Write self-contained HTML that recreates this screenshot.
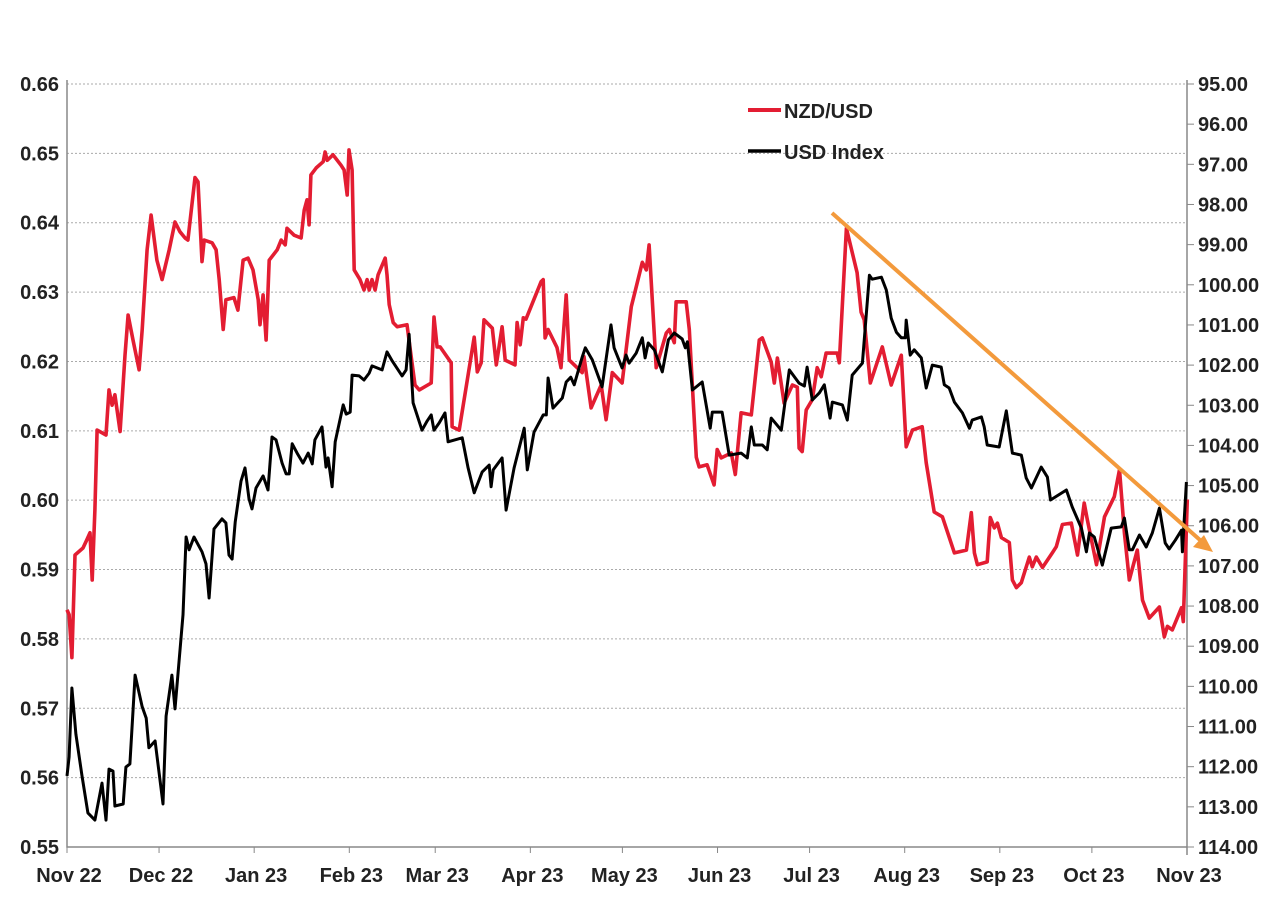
<!DOCTYPE html>
<html><head><meta charset="utf-8"><style>
body{margin:0;background:#fff;}
svg text{font-family:"Liberation Sans",sans-serif;font-weight:bold;fill:#222;}
</style></head><body>
<svg id="chart" width="1280" height="895" viewBox="0 0 1280 895" xmlns="http://www.w3.org/2000/svg"></svg>
<script>
const monthLabels=["Nov 22","Dec 22","Jan 23","Feb 23","Mar 23","Apr 23","May 23","Jun 23","Jul 23","Aug 23","Sep 23","Oct 23","Nov 23"];
const monthDays=[0,30,61,92,120,151,181,212,242,273,304,334,365];
const leftTicks=[0.55,0.56,0.57,0.58,0.59,0.60,0.61,0.62,0.63,0.64,0.65,0.66];
const rightTicks=[95,96,97,98,99,100,101,102,103,104,105,106,107,108,109,110,111,112,113,114];
const nzdDays=[0,0.7,1.6,2.6,5.2,6.5,7.5,8.2,9.1,9.8,12.7,13.7,14.7,15.6,17.3,18.9,19.9,21.5,23.5,24.5,26.1,27.4,29.3,31.0,33.3,35.2,36.8,38.5,39.4,41.7,42.7,44.0,44.7,47.3,48.6,49.6,50.9,51.8,54.4,55.7,57.4,59.0,60.6,62.3,62.9,63.9,64.9,65.9,68.5,69.8,71.1,71.7,74.0,76.3,77.3,78.2,78.9,79.5,81.2,83.5,84.1,84.8,86.7,89.3,90.3,91.3,91.9,92.9,93.6,95.5,96.8,97.8,98.5,99.4,100.4,101.4,103.7,104.3,105.0,106.3,107.6,110.8,112.1,113.4,114.8,118.7,119.6,120.6,121.6,125.2,125.5,127.8,132.7,133.7,135.0,135.9,138.6,139.9,141.8,142.8,146.0,146.7,147.7,148.7,149.6,154.5,155.2,155.8,156.8,159.7,161.0,162.7,163.7,167.9,168.5,170.8,174.1,175.7,177.7,180.9,183.9,187.5,188.8,189.7,192.0,195.3,196.3,197.9,198.5,201.8,202.8,205.1,206.0,208.6,210.9,211.9,213.2,216.5,217.8,219.7,223.0,225.6,226.6,229.5,230.5,231.5,233.7,236.4,238.0,238.6,239.6,240.9,242.9,244.5,245.8,247.4,251.0,251.7,254.0,257.5,258.8,259.8,261.8,265.7,268.6,271.9,273.5,275.5,278.7,280.0,282.6,285.3,289.2,293.1,294.7,295.7,296.7,299.9,300.9,302.2,303.2,304.5,307.1,308.1,309.4,311.0,313.6,314.6,315.9,317.9,321.1,322.4,324.4,327.3,329.3,331.5,332.5,335.5,338.1,341.3,343.0,344.6,346.2,348.8,350.5,352.7,356.0,357.6,358.6,360.2,363.2,363.8,365.1];
const nzdVals=[0.5842,0.5835,0.5773,0.5921,0.5931,0.5943,0.5953,0.5885,0.5986,0.6101,0.6094,0.6159,0.6137,0.6152,0.6099,0.6209,0.6267,0.6231,0.6188,0.6246,0.6361,0.6411,0.6346,0.6318,0.6361,0.6401,0.6387,0.6378,0.6375,0.6465,0.6459,0.6344,0.6375,0.6371,0.6361,0.6318,0.6246,0.6289,0.6292,0.6274,0.6346,0.6349,0.6332,0.6289,0.6253,0.6296,0.6231,0.6346,0.6361,0.6375,0.6368,0.6392,0.6382,0.6378,0.6418,0.6433,0.6397,0.6469,0.6479,0.6488,0.6502,0.6490,0.6498,0.6483,0.6476,0.6440,0.6505,0.6476,0.6332,0.6318,0.6303,0.6318,0.6303,0.6318,0.6303,0.6325,0.6349,0.6325,0.6282,0.6256,0.6250,0.6253,0.6209,0.6166,0.6159,0.6169,0.6264,0.6221,0.6221,0.6198,0.6106,0.6101,0.6235,0.6185,0.6198,0.6260,0.6248,0.6195,0.6250,0.6202,0.6195,0.6256,0.6224,0.6263,0.6261,0.6315,0.6318,0.6234,0.6246,0.6220,0.6191,0.6296,0.6202,0.6184,0.6207,0.6133,0.6166,0.6116,0.6184,0.6169,0.6279,0.6343,0.6332,0.6368,0.6191,0.6241,0.6246,0.6227,0.6286,0.6286,0.6246,0.6062,0.6048,0.6051,0.6022,0.6073,0.6061,0.6068,0.6037,0.6126,0.6123,0.6231,0.6234,0.6199,0.6169,0.6205,0.6140,0.6166,0.6163,0.6075,0.6070,0.6130,0.6145,0.6191,0.6178,0.6212,0.6212,0.6198,0.6392,0.6328,0.6271,0.6260,0.6169,0.6221,0.6166,0.6209,0.6077,0.6101,0.6106,0.6054,0.5983,0.5976,0.5924,0.5928,0.5982,0.5924,0.5907,0.5911,0.5975,0.5960,0.5967,0.5946,0.5939,0.5885,0.5874,0.5881,0.5918,0.5904,0.5918,0.5903,0.5924,0.5933,0.5965,0.5967,0.5921,0.5996,0.5972,0.5907,0.5976,0.6005,0.6044,0.5953,0.5885,0.5928,0.5856,0.5830,0.5846,0.5803,0.5818,0.5813,0.5845,0.5825,0.6001];
const usdDays=[0,0.7,1.6,2.9,4.9,6.8,9.1,11.4,12.7,13.7,15.0,15.6,18.3,19.2,20.5,22.2,24.5,25.8,26.7,28.7,31.3,32.3,34.2,35.2,37.8,38.8,39.8,41.4,44.0,45.3,46.3,47.9,50.5,51.8,52.8,53.8,54.8,56.7,58.0,59.3,60.3,61.6,63.9,65.5,66.8,68.1,70.1,71.4,72.4,73.4,75.0,76.9,78.6,79.9,80.8,83.1,84.4,85.1,86.4,87.4,90.0,91.0,92.3,92.9,95.2,96.8,98.5,99.4,102.7,104.3,106.0,109.2,110.5,111.5,112.8,115.7,117.4,118.7,119.6,121.3,123.2,124.2,128.8,130.7,132.7,135.3,137.6,138.2,138.9,141.8,143.1,145.7,149.0,150.0,152.2,155.2,156.2,156.8,158.4,161.4,162.7,164.2,165.3,167.9,168.9,171.2,174.4,177.3,178.3,180.9,182.2,183.2,185.5,187.5,188.4,189.4,191.4,194.0,196.0,197.9,200.5,201.5,202.2,203.8,207.0,209.6,210.3,213.5,215.8,219.7,221.7,223.0,224.0,226.6,228.2,229.5,232.8,235.4,238.6,240.3,241.2,242.9,245.2,246.8,248.7,249.4,252.7,254.3,255.9,259.2,261.5,262.4,265.4,267.0,268.6,270.3,271.9,273.2,273.5,274.8,276.1,278.4,280.0,282.0,284.9,285.9,287.5,289.2,291.8,294.1,295.0,298.0,298.9,299.9,303.8,306.1,308.1,311.0,312.6,314.3,317.5,319.5,320.5,325.7,327.6,330.6,332.2,333.2,334.8,337.4,340.3,343.6,344.6,346.2,347.2,349.5,351.7,353.7,356.0,357.9,359.2,361.2,363.2,363.5,364.8];
const usdVals=[112.23,111.76,110.04,111.19,112.23,113.15,113.33,112.41,113.33,112.06,112.11,112.98,112.93,112.01,111.93,109.72,110.51,110.79,111.53,111.36,112.93,110.74,109.72,110.56,108.22,106.28,106.60,106.28,106.65,106.95,107.80,106.08,105.83,105.93,106.73,106.83,105.91,104.89,104.56,105.33,105.58,105.06,104.76,105.11,103.79,103.86,104.44,104.71,104.71,103.96,104.19,104.44,104.19,104.46,103.86,103.54,104.54,104.31,105.03,103.91,102.99,103.22,103.17,102.25,102.27,102.37,102.20,102.02,102.12,101.67,101.90,102.27,102.12,101.23,102.94,103.62,103.39,103.24,103.62,103.44,103.19,103.91,103.81,104.56,105.18,104.66,104.49,105.03,104.61,104.31,105.61,104.56,103.57,104.61,103.67,103.24,103.24,102.32,103.07,102.82,102.42,102.30,102.49,101.80,101.57,101.87,102.54,101.00,101.57,102.07,101.75,101.95,101.70,101.32,101.82,101.45,101.62,102.17,101.37,101.20,101.35,101.57,101.42,102.62,102.42,103.57,103.17,103.17,104.24,104.19,104.31,103.54,103.99,103.99,104.11,103.32,103.62,102.12,102.45,102.52,102.05,102.87,102.69,102.49,103.32,102.92,102.99,103.37,102.25,101.95,99.76,99.86,99.81,100.13,100.83,101.18,101.32,101.32,100.88,101.75,101.62,101.82,102.57,102.00,102.05,102.49,102.57,102.92,103.19,103.57,103.37,103.29,103.54,103.99,104.04,103.14,104.19,104.24,104.81,105.06,104.54,104.79,105.36,105.11,105.53,106.06,106.65,106.18,106.28,106.98,106.06,106.03,105.81,106.60,106.60,106.23,106.53,106.18,105.56,106.43,106.58,106.36,106.11,106.65,104.91];

const NS="http://www.w3.org/2000/svg";
const svg=document.getElementById('chart');
const X0=67,X1=1187,YT=84,YB=847;
const xS=d=>X0+(d/365)*(X1-X0);
const yL=v=>YB-(v-0.55)/(0.66-0.55)*(YB-YT);
const yR=v=>YT+(v-95)/(114-95)*(YB-YT);
function mk(tag,attrs,parent){const e=document.createElementNS(NS,tag);for(const k in attrs)e.setAttribute(k,attrs[k]);(parent||svg).appendChild(e);return e;}

const grid=mk('g',{});


leftTicks.forEach(v=>{
  if(v>0.551){const l=mk('line',{x1:X0,x2:X1,y1:yL(v),y2:yL(v),stroke:'#aaa','stroke-width':1,'stroke-dasharray':'2,2'},grid);
  
  }
  const t=mk('text',{x:59,y:yL(v)+7,'text-anchor':'end','font-size':20});
  t.textContent=v.toFixed(2);
  
  
});
rightTicks.forEach(v=>{
  mk('line',{x1:X1,x2:X1+7,y1:yR(v),y2:yR(v),stroke:'#888','stroke-width':1});
  const t=mk('text',{x:1198,y:yR(v)+7,'font-size':20});
  t.textContent=v.toFixed(2);
  
  
});
monthDays.forEach((d,i)=>{
  mk('line',{x1:xS(d),x2:xS(d),y1:YB,y2:YB+6,stroke:'#888','stroke-width':1});
  const t=mk('text',{x:xS(d)+2,y:882,'text-anchor':'middle','font-size':20});
  t.textContent=monthLabels[i];
  
  
});
const ax=mk('path',{d:`M${X0} ${YT-4}V${YB}H${X1}M${X1} ${YT-4}V${YB+8}`,stroke:'#888','stroke-width':1.5,fill:'none'});



const redPts=nzdDays.map((d,i)=>xS(d).toFixed(1)+','+yL(nzdVals[i]).toFixed(1)).join(' ');
const red=mk('polyline',{points:redPts,fill:'none',stroke:'#e31d32','stroke-width':3.6,'stroke-linejoin':'round'});


const blkPts=usdDays.map((d,i)=>xS(d).toFixed(1)+','+yR(usdVals[i]).toFixed(1)).join(' ');
const blk=mk('polyline',{points:blkPts,fill:'none',stroke:'#000','stroke-width':3,'stroke-linejoin':'round'});



const tr=mk('g',{});


mk('line',{x1:832,y1:213,x2:1200,y2:540,stroke:'#f39a3c','stroke-width':4},tr);
mk('polygon',{points:'1213,552 1193,547 1204,535',fill:'#f39a3c'},tr);

const lg=mk('g',{});


mk('line',{x1:748,x2:781,y1:110,y2:110,stroke:'#e31d32','stroke-width':4},lg);
const t1=mk('text',{x:784,y:118,'font-size':20},lg);t1.textContent='NZD/USD';


mk('line',{x1:748,x2:781,y1:151,y2:151,stroke:'#000','stroke-width':3.5},lg);
const t2=mk('text',{x:784,y:159,'font-size':20},lg);t2.textContent='USD Index';


</script>
</body></html>
